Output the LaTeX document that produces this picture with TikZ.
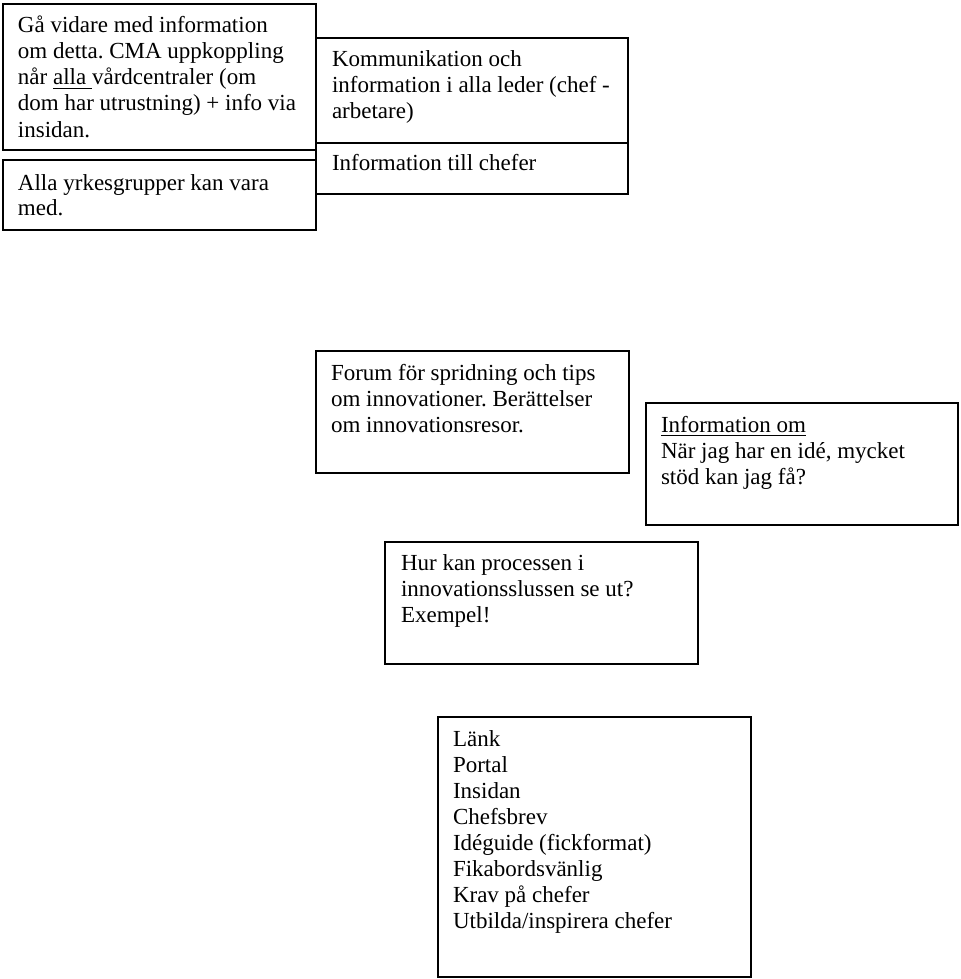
\documentclass[tikz,border=0pt]{standalone}
\usepackage{fontspec}
\setmainfont{Liberation Serif}
\frenchspacing
\newcommand{\boxnode}[5]{%
  \node[boxst, anchor=north west,
        minimum width={(#4-#2)*0.5pt}, minimum height={(#5-#3)*0.5pt}]
        (#1) at (#2,#3) {};}
\newcommand{\txtnode}[4]{%
  \node[txtst] (#1) at (#2,#3) {\parbox[t]{170pt}{\raggedright #4}};}
\begin{document}
\begin{tikzpicture}[x=0.5pt,y=-0.5pt,
  boxst/.style={draw=black, line width=0.85pt, inner sep=0pt, outer sep=0pt, fill=none},
  txtst/.style={anchor=base west, inner sep=0pt, outer sep=0pt,
                font=\fontsize{11.5}{13}\selectfont, text=black}]
\useasboundingbox (0,0) rectangle (960,979);
% top-left boxes
\boxnode{gaa}{3}{4}{316}{150}
\boxnode{alla}{3}{160}{316}{230}
% top-centre box (two parts)
\boxnode{komm}{316}{38}{628}{143}
\boxnode{infochef}{316}{143}{628}{194}
% middle boxes
\boxnode{forum}{316}{351}{629}{473}
\boxnode{infoom}{646}{403}{958}{525}
\boxnode{hur}{385}{542}{698}{664}
\boxnode{lank}{438}{717}{751}{977}
% texts
\txtnode{tgaa}{18}{33}{Gå vidare med information\\om detta. CMA uppkoppling\\når \underline{alla\ }vårdcentraler (om\\dom har utrustning) + info via\\insidan.}
\txtnode{talla}{18}{190}{Alla yrkesgrupper kan vara\\med.}
\txtnode{tkomm}{332}{67}{Kommunikation och\\information i alla leder (chef -\\arbetare)}
\txtnode{tinfochef}{332}{170}{Information till chefer}
\txtnode{tforum}{331}{380}{Forum för spridning och tips\\om innovationer. Berättelser\\om innovationsresor.}
\txtnode{tinfoom}{661}{432}{\underline{Information om}\\När jag har en idé, mycket\\stöd kan jag få?}
\txtnode{thur}{401}{570}{Hur kan processen i\\innovationsslussen se ut?\\Exempel!}
\txtnode{tlank}{453}{746}{Länk\\Portal\\Insidan\\Chefsbrev\\Idéguide (fickformat)\\Fikabordsvänlig\\Krav på chefer\\Utbilda/inspirera chefer}
\end{tikzpicture}
\end{document}
